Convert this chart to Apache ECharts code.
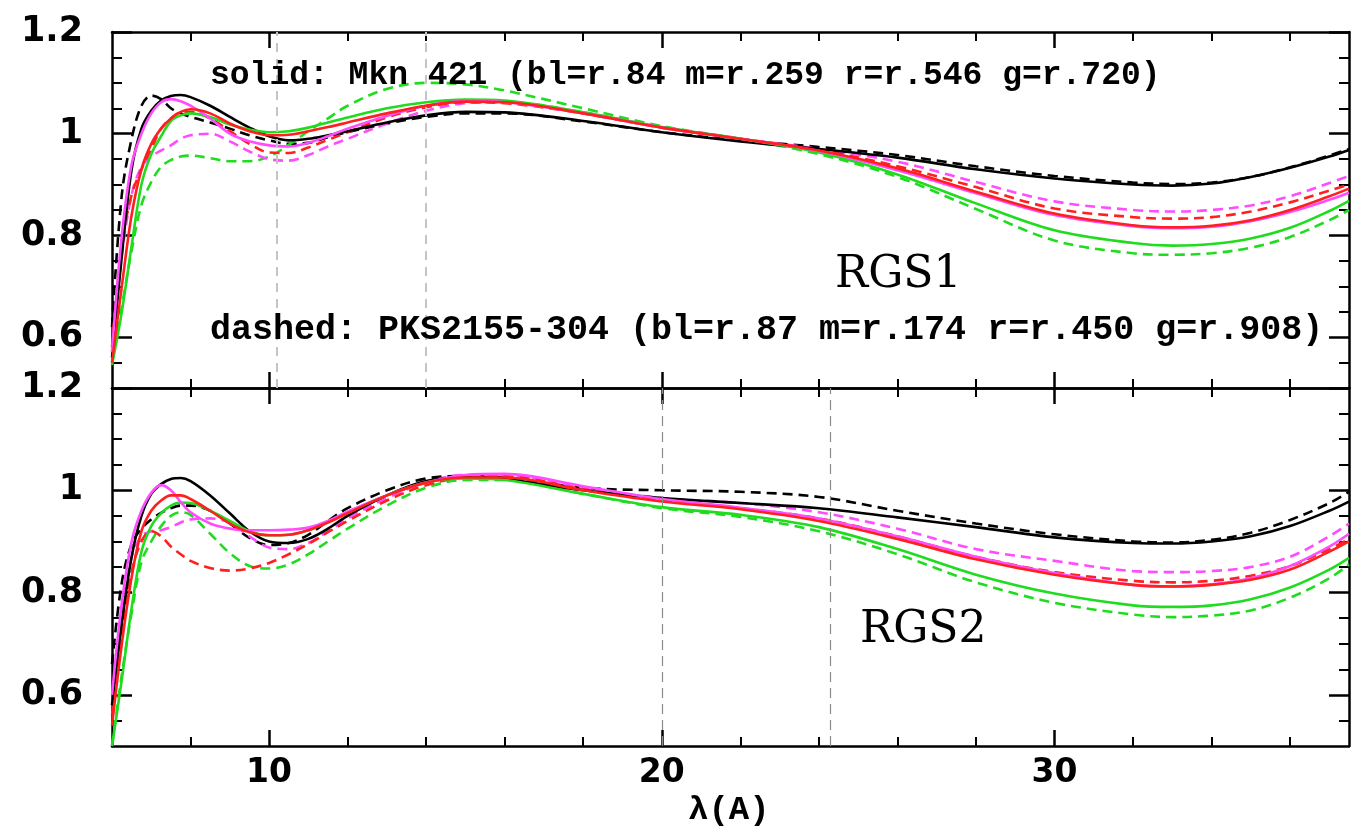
<!DOCTYPE html>
<html>
<head>
<meta charset="utf-8">
<script src="https://cdn.jsdelivr.net/npm/echarts@6/dist/echarts.min.js"></script>
<style>
html,body{margin:0;padding:0;background:#fff;}
#chart{width:1351px;height:831px;}
</style>
</head>
<body>
<div id="chart"></div>
<script>
// wavelength grid (Angstrom)
const lambda = [6, 6.25, 6.5, 6.75, 7, 7.25, 7.5, 7.75, 8, 8.5, 9, 9.5, 10, 10.5, 11, 11.5, 12, 13, 14, 15, 16, 18, 20, 22, 24, 26, 28, 30, 32, 33, 34, 35, 36, 37, 37.5];

// RGS1 panel — solid: Mkn 421, dashed: PKS2155-304
const rgs1BlackSolid   = [0.56, 0.76, 0.93, 1.01, 1.045, 1.065, 1.074, 1.076, 1.072, 1.055, 1.033, 1.012, 0.995, 0.987, 0.99, 0.997, 1.005, 1.022, 1.036, 1.043, 1.042, 1.025, 1.003, 0.985, 0.97, 0.953, 0.93, 0.912, 0.9, 0.898, 0.902, 0.915, 0.933, 0.955, 0.968];
const rgs1BlackDashed  = [0.62, 0.88, 0.99, 1.055, 1.075, 1.068, 1.05, 1.04, 1.033, 1.022, 1.01, 0.997, 0.987, 0.98, 0.982, 0.993, 1.003, 1.02, 1.033, 1.04, 1.04, 1.024, 1.003, 0.987, 0.974, 0.958, 0.936, 0.917, 0.904, 0.901, 0.904, 0.915, 0.934, 0.957, 0.97];
const rgs1MagentaSolid = [0.57, 0.8, 0.94, 1.0, 1.04, 1.062, 1.068, 1.064, 1.055, 1.03, 1.0, 0.985, 0.977, 0.975, 0.982, 0.995, 1.01, 1.035, 1.055, 1.064, 1.062, 1.04, 1.012, 0.99, 0.966, 0.928, 0.883, 0.84, 0.818, 0.814, 0.817, 0.828, 0.846, 0.87, 0.884];
const rgs1MagentaDashed= [0.57, 0.76, 0.88, 0.935, 0.955, 0.967, 0.977, 0.99, 0.997, 1.0, 0.985, 0.965, 0.95, 0.947, 0.958, 0.975, 0.99, 1.02, 1.045, 1.06, 1.062, 1.042, 1.013, 0.99, 0.97, 0.945, 0.905, 0.867, 0.85, 0.847, 0.85, 0.859, 0.877, 0.903, 0.917];
const rgs1RedSolid     = [0.55, 0.7, 0.84, 0.93, 0.98, 1.01, 1.03, 1.043, 1.048, 1.04, 1.02, 1.005, 0.997, 0.998, 1.005, 1.013, 1.022, 1.04, 1.055, 1.063, 1.062, 1.04, 1.012, 0.99, 0.967, 0.932, 0.886, 0.843, 0.82, 0.816, 0.819, 0.83, 0.85, 0.877, 0.892];
const rgs1RedDashed    = [0.58, 0.78, 0.88, 0.93, 0.97, 1.01, 1.03, 1.042, 1.043, 1.03, 1.005, 0.98, 0.963, 0.962, 0.973, 0.988, 1.003, 1.032, 1.052, 1.062, 1.06, 1.04, 1.012, 0.99, 0.968, 0.936, 0.895, 0.853, 0.836, 0.833, 0.836, 0.847, 0.865, 0.888, 0.9];
const rgs1GreenSolid   = [0.545, 0.65, 0.78, 0.9, 0.96, 0.995, 1.025, 1.036, 1.04, 1.033, 1.018, 1.008, 1.003, 1.005, 1.012, 1.022, 1.032, 1.05, 1.062, 1.067, 1.065, 1.042, 1.013, 0.99, 0.963, 0.92, 0.863, 0.81, 0.785, 0.78, 0.783, 0.794, 0.815, 0.848, 0.868];
const rgs1GreenDashed  = [0.55, 0.66, 0.77, 0.86, 0.905, 0.935, 0.948, 0.955, 0.957, 0.952, 0.946, 0.946, 0.955, 0.978, 1.005, 1.03, 1.055, 1.088, 1.1, 1.097, 1.085, 1.05, 1.015, 0.99, 0.96, 0.915, 0.852, 0.79, 0.765, 0.762, 0.765, 0.776, 0.797, 0.83, 0.85];

// RGS2 panel
const rgs2BlackSolid   = [0.58, 0.74, 0.87, 0.95, 0.993, 1.012, 1.022, 1.024, 1.018, 0.99, 0.955, 0.92, 0.9, 0.897, 0.905, 0.925, 0.95, 0.99, 1.018, 1.025, 1.022, 1.0, 0.985, 0.975, 0.965, 0.947, 0.928, 0.908, 0.897, 0.896, 0.9, 0.91, 0.93, 0.96, 0.978];
const rgs2BlackDashed  = [0.66, 0.82, 0.895, 0.925, 0.943, 0.956, 0.965, 0.97, 0.97, 0.96, 0.935, 0.907, 0.893, 0.897, 0.913, 0.94, 0.965, 1.0, 1.023, 1.028, 1.025, 1.005, 1.0, 0.997, 0.987, 0.96, 0.935, 0.914, 0.9, 0.898, 0.903, 0.917, 0.942, 0.975, 0.997];
const rgs2MagentaSolid = [0.6, 0.78, 0.9, 0.96, 0.995, 1.01, 1.0, 0.977, 0.957, 0.935, 0.925, 0.922, 0.922, 0.923, 0.927, 0.94, 0.958, 0.99, 1.015, 1.03, 1.032, 1.008, 0.983, 0.966, 0.945, 0.91, 0.87, 0.838, 0.815, 0.812, 0.816, 0.828, 0.852, 0.89, 0.915];
const rgs2MagentaDashed= [0.58, 0.76, 0.87, 0.91, 0.92, 0.922, 0.928, 0.937, 0.943, 0.945, 0.937, 0.91, 0.888, 0.885, 0.897, 0.92, 0.945, 0.985, 1.015, 1.03, 1.03, 1.005, 0.985, 0.975, 0.957, 0.925, 0.885, 0.862, 0.842, 0.84, 0.842, 0.85, 0.87, 0.91, 0.935];
const rgs2RedSolid     = [0.54, 0.7, 0.83, 0.92, 0.96, 0.98, 0.99, 0.99, 0.983, 0.96, 0.935, 0.918, 0.912, 0.913, 0.922, 0.937, 0.955, 0.99, 1.015, 1.025, 1.025, 1.0, 0.978, 0.963, 0.94, 0.905, 0.865, 0.835, 0.815, 0.812, 0.815, 0.825, 0.845, 0.88, 0.9];
const rgs2RedDashed    = [0.56, 0.72, 0.84, 0.9, 0.92, 0.91, 0.89, 0.875, 0.862, 0.848, 0.843, 0.847, 0.858, 0.875, 0.895, 0.918, 0.94, 0.98, 1.01, 1.025, 1.027, 1.002, 0.98, 0.965, 0.945, 0.91, 0.87, 0.84, 0.823, 0.82, 0.823, 0.833, 0.852, 0.885, 0.905];
const rgs2GreenSolid   = [0.5, 0.63, 0.77, 0.88, 0.93, 0.955, 0.97, 0.976, 0.975, 0.96, 0.94, 0.92, 0.912, 0.913, 0.922, 0.938, 0.957, 0.99, 1.015, 1.023, 1.02, 0.993, 0.967, 0.952, 0.928, 0.885, 0.835, 0.798, 0.775, 0.772, 0.775, 0.787, 0.81, 0.845, 0.868];
const rgs2GreenDashed  = [0.5, 0.64, 0.76, 0.86, 0.9, 0.93, 0.95, 0.957, 0.952, 0.915, 0.877, 0.852, 0.847, 0.855, 0.875, 0.9, 0.925, 0.97, 1.005, 1.02, 1.02, 0.993, 0.965, 0.948, 0.92, 0.875, 0.82, 0.78, 0.757, 0.752, 0.755, 0.765, 0.79, 0.828, 0.855];

// vertical marker wavelengths
const rgs1Marks = [10.2, 14.0];
const rgs2Marks = [20.0, 24.3];

// tick labels
const xMajorTicks = [10, 20, 30];
const xMinorTicks = [8, 12, 14, 16, 18, 22, 24, 26, 28, 32, 34, 36];
const yMajorTicks = [0.6, 0.8, 1, 1.2];
const yMinorTicks = [0.55, 0.65, 0.7, 0.75, 0.85, 0.9, 0.95, 1.05, 1.1, 1.15];

const XMIN = 6, XMAX = 37.5, YMIN = 0.5, YMAX = 1.2;
const COL = {black:'#000000', magenta:'#ff4cff', red:'#ff1f1f', green:'#1fdc1f'};
const DASH = [10, 6];

const chart = echarts.init(document.getElementById('chart'), null, {renderer:'canvas'});

const grids = [
  {left:112, top:32, width:1237, height:356},
  {left:112, top:388, width:1237, height:358}
];

function xAxesFor(g, withLabels){
  const base = {type:'value', gridIndex:g, min:XMIN, max:XMAX, splitLine:{show:false}};
  return [
    Object.assign({}, base, {position:'bottom',
      axisLine:{show:true, onZero:false, lineStyle:{color:'#000', width:2.5}},
      axisTick:{show:true, inside:true, length:16, customValues:xMajorTicks, lineStyle:{color:'#000', width:2.5}},
      axisLabel:{show:withLabels, customValues:xMajorTicks, color:'#000', fontFamily:'DejaVu Sans', fontWeight:'bold', fontSize:33, margin:11}}),
    Object.assign({}, base, {position:'bottom',
      axisLine:{show:false},
      axisTick:{show:true, inside:true, length:9, customValues:xMinorTicks, lineStyle:{color:'#000', width:2}},
      axisLabel:{show:false}}),
    Object.assign({}, base, {position:'top',
      axisLine:{show:true, onZero:false, lineStyle:{color:'#000', width:2.5}},
      axisTick:{show:true, inside:true, length:16, customValues:xMajorTicks, lineStyle:{color:'#000', width:2.5}},
      axisLabel:{show:false}}),
    Object.assign({}, base, {position:'top',
      axisLine:{show:false},
      axisTick:{show:true, inside:true, length:9, customValues:xMinorTicks, lineStyle:{color:'#000', width:2}},
      axisLabel:{show:false}})
  ];
}
function yAxesFor(g){
  const base = {type:'value', gridIndex:g, min:YMIN, max:YMAX, splitLine:{show:false}};
  return [
    Object.assign({}, base, {position:'left',
      axisLine:{show:true, onZero:false, lineStyle:{color:'#000', width:2.5}},
      axisTick:{show:true, inside:true, length:20, customValues:yMajorTicks, lineStyle:{color:'#000', width:2.5}},
      axisLabel:{show:true, customValues:yMajorTicks, color:'#000', fontFamily:'DejaVu Sans', fontWeight:'bold', fontSize:35, margin:29,
        formatter:function(v){ return v === 1 ? '1' : v.toFixed(1); }}}),
    Object.assign({}, base, {position:'left',
      axisLine:{show:false},
      axisTick:{show:true, inside:true, length:10, customValues:yMinorTicks, lineStyle:{color:'#000', width:2}},
      axisLabel:{show:false}}),
    Object.assign({}, base, {position:'right',
      axisLine:{show:true, onZero:false, lineStyle:{color:'#000', width:2.5}},
      axisTick:{show:true, inside:true, length:20, customValues:yMajorTicks, lineStyle:{color:'#000', width:2.5}},
      axisLabel:{show:false}}),
    Object.assign({}, base, {position:'right',
      axisLine:{show:false},
      axisTick:{show:true, inside:true, length:10, customValues:yMinorTicks, lineStyle:{color:'#000', width:2}},
      axisLabel:{show:false}})
  ];
}

function pairs(vals){ return lambda.map((x, i) => [x, vals[i]]); }

function line(g, name, vals, color, dashed, marks){
  const s = {
    name: name, type:'line', xAxisIndex:4*g, yAxisIndex:4*g,
    data: pairs(vals), showSymbol:false, smooth:0.35, animation:false,
    lineStyle:{color:color, width:2.6, type: dashed ? DASH : 'solid'},
    z: dashed ? 3 : 4
  };
  if (marks) {
    s.markLine = {
      silent:true, symbol:'none', animation:false,
      label:{show:false},
      lineStyle: g === 0 ? {type:[9,7], color:'#c4c4c4', width:2} : {type:[10,6], color:'#8a8a8a', width:1.2},
      data: marks.map(x => ({xAxis:x}))
    };
  }
  return s;
}

const series = [
  line(0, 'RGS1 Mkn421 bl', rgs1BlackSolid, COL.black, false, rgs1Marks),
  line(0, 'RGS1 PKS bl', rgs1BlackDashed, COL.black, true),
  line(0, 'RGS1 PKS g', rgs1GreenDashed, COL.green, true),
  line(0, 'RGS1 PKS m', rgs1MagentaDashed, COL.magenta, true),
  line(0, 'RGS1 PKS r', rgs1RedDashed, COL.red, true),
  line(0, 'RGS1 Mkn421 g', rgs1GreenSolid, COL.green, false),
  line(0, 'RGS1 Mkn421 m', rgs1MagentaSolid, COL.magenta, false),
  line(0, 'RGS1 Mkn421 r', rgs1RedSolid, COL.red, false),

  line(1, 'RGS2 Mkn421 bl', rgs2BlackSolid, COL.black, false, rgs2Marks),
  line(1, 'RGS2 PKS bl', rgs2BlackDashed, COL.black, true),
  line(1, 'RGS2 PKS g', rgs2GreenDashed, COL.green, true),
  line(1, 'RGS2 PKS m', rgs2MagentaDashed, COL.magenta, true),
  line(1, 'RGS2 PKS r', rgs2RedDashed, COL.red, true),
  line(1, 'RGS2 Mkn421 g', rgs2GreenSolid, COL.green, false),
  line(1, 'RGS2 Mkn421 m', rgs2MagentaSolid, COL.magenta, false),
  line(1, 'RGS2 Mkn421 r', rgs2RedSolid, COL.red, false)
];

chart.setOption({
  backgroundColor:'#ffffff',
  animation:false,
  grid: grids,
  xAxis: xAxesFor(0, false).concat(xAxesFor(1, true)),
  yAxis: yAxesFor(0).concat(yAxesFor(1)),
  series: series,
  graphic: [
    {type:'text', left:210, top:59, z:10, style:{text:'solid: Mkn 421 (bl=r.84 m=r.259 r=r.546 g=r.720)', font:'bold 33px "Liberation Mono", "DejaVu Sans Mono", monospace', fill:'#000'}},
    {type:'text', left:210, top:313, z:10, style:{text:'dashed: PKS2155-304 (bl=r.87 m=r.174 r=r.450 g=r.908)', font:'bold 35px "Liberation Mono", "DejaVu Sans Mono", monospace', fill:'#000'}},
    {type:'text', left:835, top:254, z:10, style:{text:'RGS1', font:'44px "DejaVu Serif", "Liberation Serif", serif', fill:'#000'}},
    {type:'text', left:860, top:609, z:10, style:{text:'RGS2', font:'44px "DejaVu Serif", "Liberation Serif", serif', fill:'#000'}},
    {type:'text', left:688, top:793, z:10, style:{text:'λ(A)', font:'bold 34px "Liberation Mono", "DejaVu Sans Mono", monospace', fill:'#000'}}
  ]
});
</script>
</body>
</html>
